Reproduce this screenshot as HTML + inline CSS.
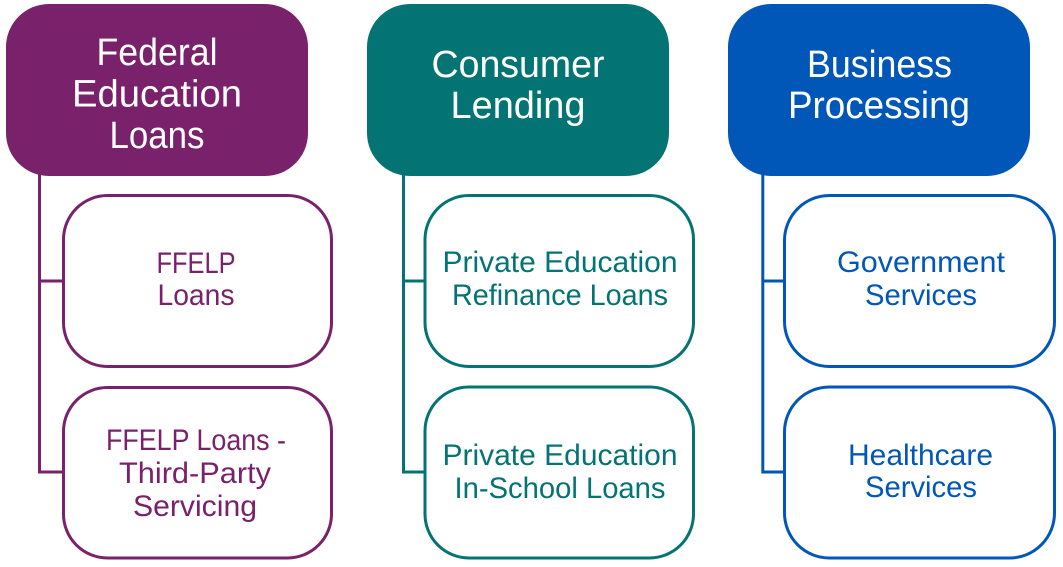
<!DOCTYPE html>
<html>
<head>
<meta charset="utf-8">
<style>
  html,body{margin:0;padding:0;background:#fff;}
  svg{display:block;}
  text{font-family:"Liberation Sans", Arial, sans-serif;}
</style>
</head>
<body>
<svg width="1063" height="567" viewBox="0 0 1063 567" xmlns="http://www.w3.org/2000/svg">
  <!-- Column 1: Purple -->
  <g>
    <rect x="6" y="4" width="302" height="172" rx="43" ry="43" fill="#79216A"/>
    <path d="M39.5 170 V472 M38 281 H64 M38 472 H64" stroke="#79216A" stroke-width="3" fill="none"/>
    <rect x="63.5" y="195.5" width="268" height="171" rx="44" ry="44" fill="#fff" stroke="#79216A" stroke-width="3"/>
    <rect x="63.5" y="387.5" width="268" height="170.5" rx="44" ry="44" fill="#fff" stroke="#79216A" stroke-width="3"/>
    <g fill="#fff" font-size="38" text-anchor="middle">
      <text x="157" y="65" textLength="121" lengthAdjust="spacingAndGlyphs">Federal</text>
      <text x="157" y="106.5" textLength="170" lengthAdjust="spacingAndGlyphs">Education</text>
      <text x="157" y="148" textLength="95" lengthAdjust="spacingAndGlyphs">Loans</text>
    </g>
    <g fill="#79216A" font-size="30" text-anchor="middle">
      <text x="196" y="273" textLength="79" lengthAdjust="spacingAndGlyphs">FFELP</text>
      <text x="196" y="305" textLength="77" lengthAdjust="spacingAndGlyphs">Loans</text>
      <text x="196" y="450" textLength="180" lengthAdjust="spacingAndGlyphs">FFELP Loans -</text>
      <text x="195" y="483" textLength="152" lengthAdjust="spacingAndGlyphs">Third-Party</text>
      <text x="195" y="516" textLength="124" lengthAdjust="spacingAndGlyphs">Servicing</text>
    </g>
  </g>

  <!-- Column 2: Teal -->
  <g>
    <rect x="367" y="4" width="302" height="172" rx="43" ry="43" fill="#037473"/>
    <path d="M403.5 170 V472 M402 281 H426 M402 472 H426" stroke="#037473" stroke-width="3" fill="none"/>
    <rect x="425" y="195.5" width="268.5" height="171" rx="44" ry="44" fill="#fff" stroke="#037473" stroke-width="3"/>
    <rect x="425" y="387" width="268.5" height="171" rx="44" ry="44" fill="#fff" stroke="#037473" stroke-width="3"/>
    <g fill="#fff" font-size="38" text-anchor="middle">
      <text x="518" y="77" textLength="173" lengthAdjust="spacingAndGlyphs">Consumer</text>
      <text x="518" y="118" textLength="135" lengthAdjust="spacingAndGlyphs">Lending</text>
    </g>
    <g fill="#037473" font-size="30" text-anchor="middle">
      <text x="560" y="272" textLength="235" lengthAdjust="spacingAndGlyphs">Private Education</text>
      <text x="560" y="305" textLength="216" lengthAdjust="spacingAndGlyphs">Refinance Loans</text>
      <text x="560" y="465" textLength="235" lengthAdjust="spacingAndGlyphs">Private Education</text>
      <text x="560" y="498" textLength="211" lengthAdjust="spacingAndGlyphs">In-School Loans</text>
    </g>
  </g>

  <!-- Column 3: Blue -->
  <g>
    <rect x="728" y="4" width="302" height="172" rx="43" ry="43" fill="#0057B8"/>
    <path d="M762.8 170 V472 M761.3 281 H786 M761.3 472 H786" stroke="#0057B8" stroke-width="3" fill="none"/>
    <rect x="784.5" y="195.5" width="270" height="171" rx="45" ry="45" fill="#fff" stroke="#0057B8" stroke-width="3"/>
    <rect x="784.5" y="387" width="270" height="171" rx="45" ry="45" fill="#fff" stroke="#0057B8" stroke-width="3"/>
    <g fill="#fff" font-size="38" text-anchor="middle">
      <text x="879.5" y="77" textLength="145" lengthAdjust="spacingAndGlyphs">Business</text>
      <text x="879" y="118" textLength="182" lengthAdjust="spacingAndGlyphs">Processing</text>
    </g>
    <g fill="#0057B8" font-size="30" text-anchor="middle">
      <text x="921" y="272" textLength="168" lengthAdjust="spacingAndGlyphs">Government</text>
      <text x="921" y="305" textLength="112" lengthAdjust="spacingAndGlyphs">Services</text>
      <text x="920.5" y="465" textLength="145" lengthAdjust="spacingAndGlyphs">Healthcare</text>
      <text x="921" y="497" textLength="112" lengthAdjust="spacingAndGlyphs">Services</text>
    </g>
  </g>
</svg>
</body>
</html>
